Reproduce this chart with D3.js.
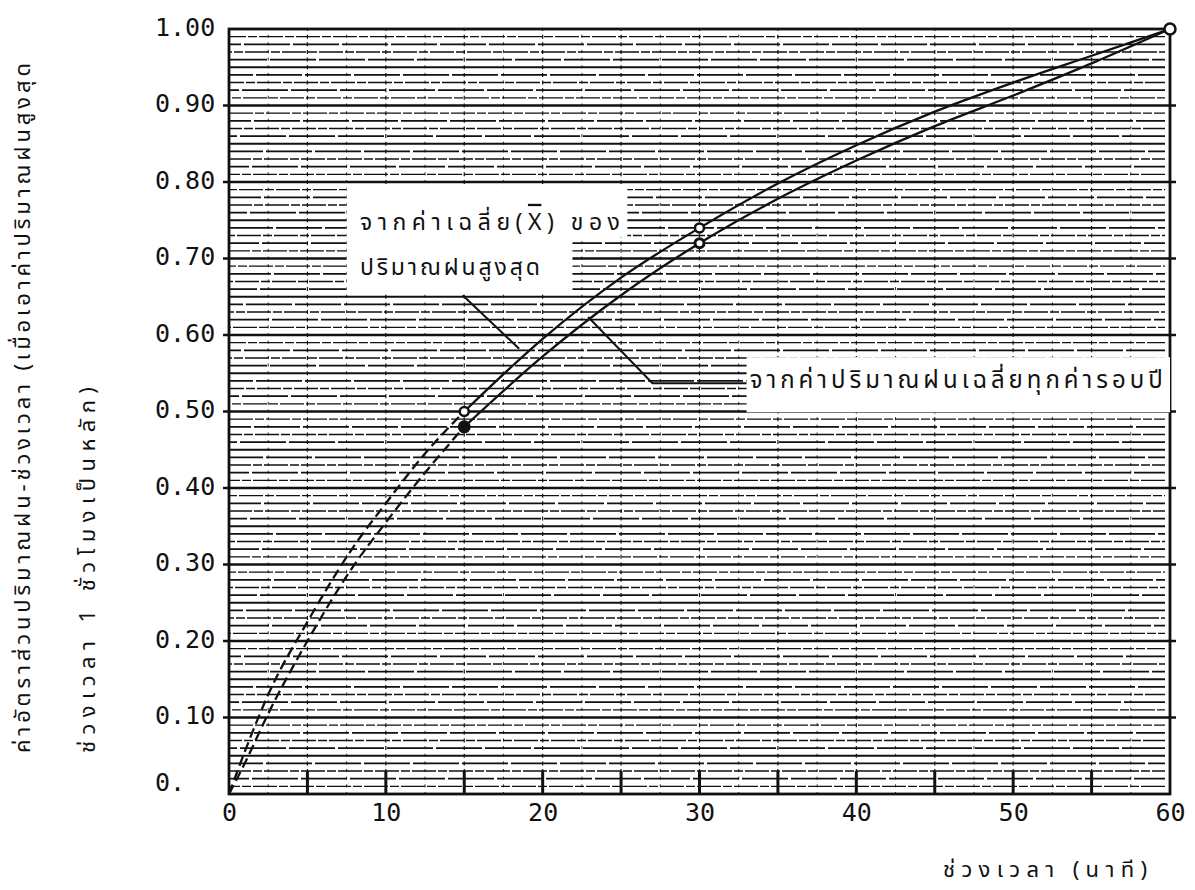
<!DOCTYPE html>
<html>
<head>
<meta charset="utf-8">
<script src="https://cdn.jsdelivr.net/npm/d3@7"></script>
<style>
  html, body { margin: 0; padding: 0; background: #fff; }
  svg { display: block; }
  .num { font-family: "DejaVu Sans Mono", "Liberation Mono", monospace; font-size: 25px; fill: #111; }
  .thai { font-family: "Noto Sans Thai", "Loma", "Garuda", "Tlwg Typo", "Noto Sans", sans-serif; fill: #111; }
</style>
</head>
<body>
<script>
// time (minutes) and depth-duration ratio
const minutes = [0, 1, 2.5, 5, 8, 10, 12.5, 15, 20, 25, 30, 35, 40, 45, 50, 55, 60];
const ratioMaxMean = [0, 0.055, 0.13, 0.225, 0.325, 0.38, 0.445, 0.5, 0.595, 0.675, 0.74, 0.798, 0.848, 0.892, 0.93, 0.965, 1.0];
const ratioAnnualMean = [0, 0.04, 0.105, 0.2, 0.3, 0.355, 0.42, 0.48, 0.572, 0.652, 0.72, 0.778, 0.828, 0.873, 0.913, 0.955, 1.0];
const dashedUntil = 15;

const pointsMaxMean = [[15, 0.5], [30, 0.74]];
const pointsAnnualMean = [[15, 0.48], [30, 0.72]];
const endPoint = [[60, 1.0]];

const xTicks = [0, 10, 20, 30, 40, 50, 60];
const yTicks = [0, 0.1, 0.2, 0.3, 0.4, 0.5, 0.6, 0.7, 0.8, 0.9, 1.0];
const yTickLabels = ["0.", "0.10", "0.20", "0.30", "0.40", "0.50", "0.60", "0.70", "0.80", "0.90", "1.00"];

const yTitle1 = "ค่าอัตราส่วนปริมาณฝน-ช่วงเวลา (เมื่อเอาค่าปริมาณฝนสูงสุด";
const yTitle2 = "ช่วงเวลา 1 ชั่วโมงเป็นหลัก)";
const xTitle = "ช่วงเวลา (นาที)";
const labelMax1 = ["จากค่าเฉลี่ย(", "X", ")  ของ"];
const labelMax2 = "ปริมาณฝนสูงสุด";
const labelAnnual = "จากค่าปริมาณฝนเฉลี่ยทุกค่ารอบปี";

// annotation boxes / leaders in data units
const boxMax = [[7.5, 25.4, 0.793, 0.728], [7.5, 21.9, 0.728, 0.656]];
const boxAnnual = [[33.0, 60, 0.571, 0.499]];
const leaderMax = [[14.9, 0.652], [18.5, 0.582]];
const leaderAnnual = [[22.9, 0.6235], [27.0, 0.537], [33.0, 0.537]];

const width = 1195, height = 890;
const x = d3.scaleLinear().domain([0, 60]).range([229, 1170]);
const y = d3.scaleLinear().domain([0, 1]).range([794, 29]);

const svg = d3.select("body").append("svg")
  .attr("width", width).attr("height", height)
  .attr("viewBox", [0, 0, width, height]);

// graph paper
const grid = svg.append("g").attr("stroke", "#111").attr("fill", "none");
const hIdx = d3.range(1, 100);
grid.selectAll("line.h")
  .data(hIdx)
  .join("line")
  .attr("class", "h")
  .attr("x1", (k) => (k % 10 === 0 ? x(0) - 6 : x(0)))
  .attr("x2", (k) => (k % 10 === 0 ? x(60) + 6 : x(60) - 5))
  .attr("y1", (k) => y(k / 100))
  .attr("y2", (k) => y(k / 100))
  .attr("stroke-width", (k) => (k % 10 === 0 ? 2.4 : k % 5 === 0 ? 2 : k % 2 ? 1.4 : 1.8))
  .attr("stroke-dasharray", (k) => (k % 5 === 0 ? null : k % 2 ? "24,2,9,2" : "46,3"))
  .attr("stroke-dashoffset", (k) => (k * 13) % 40);

const vIdx = d3.range(1, 24).map((k) => k * 2.5);
grid.selectAll("line.v")
  .data(vIdx)
  .join("line")
  .attr("class", "v")
  .attr("x1", (d) => x(d))
  .attr("x2", (d) => x(d))
  .attr("y1", y(1))
  .attr("y2", y(0))
  .attr("stroke-width", (d) => (d % 5 === 0 ? 1.2 : 0.9))
  .attr("stroke-dasharray", (d) => (d % 5 === 0 ? "4,3.65" : "3,4.65"))
  .attr("stroke-dashoffset", 2);

grid.selectAll("line.vb")
  .data(vIdx.filter((d) => d % 5 === 0))
  .join("line")
  .attr("class", "vb")
  .attr("x1", (d) => x(d))
  .attr("x2", (d) => x(d))
  .attr("y1", y(0.03))
  .attr("y2", y(0))
  .attr("stroke-width", 3);

// frame
svg.append("rect")
  .attr("x", x(0)).attr("y", y(1))
  .attr("width", x(60) - x(0)).attr("height", y(0) - y(1))
  .attr("fill", "none").attr("stroke", "#111").attr("stroke-width", 2.8);

// white label boxes
svg.append("g").attr("fill", "#fff")
  .selectAll("rect")
  .data(boxMax.concat(boxAnnual))
  .join("rect")
  .attr("x", (d) => x(d[0]))
  .attr("width", (d) => x(d[1]) - x(d[0]))
  .attr("y", (d) => y(d[2]))
  .attr("height", (d) => y(d[3]) - y(d[2]));

// curves
const rows = (vals) => minutes.map((m, i) => [m, vals[i]]);
const line = d3.line().x((d) => x(d[0])).y((d) => y(d[1])).curve(d3.curveMonotoneX);
const curves = svg.append("g").attr("fill", "none").attr("stroke", "#111").attr("stroke-width", 2.3);
[ratioMaxMean, ratioAnnualMean].forEach((vals) => {
  const r = rows(vals);
  curves.append("path")
    .attr("d", line(r.filter((d) => d[0] <= dashedUntil)))
    .attr("stroke-dasharray", "10,5");
  curves.append("path")
    .attr("d", line(r.filter((d) => d[0] >= dashedUntil)));
});

// leaders
const leader = d3.line().x((d) => x(d[0])).y((d) => y(d[1]));
svg.append("g").attr("fill", "none").attr("stroke", "#111").attr("stroke-width", 2)
  .selectAll("path")
  .data([leaderMax, leaderAnnual])
  .join("path")
  .attr("d", leader);

// markers
const marks = svg.append("g").attr("stroke", "#111");
marks.selectAll("circle.o")
  .data(pointsMaxMean.concat(endPoint))
  .join("circle")
  .attr("class", "o")
  .attr("cx", (d) => x(d[0])).attr("cy", (d) => y(d[1]))
  .attr("r", (d, i) => (i === 2 ? 5.5 : 4.5))
  .attr("fill", "#fff").attr("stroke-width", 2.5);
marks.selectAll("circle.f")
  .data(pointsAnnualMean)
  .join("circle")
  .attr("class", "f")
  .attr("cx", (d) => x(d[0])).attr("cy", (d) => y(d[1]))
  .attr("r", (d, i) => (i === 0 ? 5 : 4.5))
  .attr("fill", (d, i) => (i === 0 ? "#111" : "#fff"))
  .attr("stroke-width", 3);

// axes
const yAxis = svg.append("g")
  .attr("transform", `translate(${x(0)},0)`)
  .call(d3.axisLeft(y).tickValues(yTicks).tickSize(0)
    .tickFormat((d, i) => yTickLabels[i]));
yAxis.select(".domain").remove();
yAxis.attr("font-size", null).attr("font-family", null);
yAxis.selectAll("text")
  .attr("class", "num")
  .attr("x", -74)
  .attr("text-anchor", "start")
  .attr("dy", (d) => (d === 0 ? "-0.15em" : "0.25em"));

const xAxis = svg.append("g")
  .attr("transform", `translate(0,${y(0)})`)
  .call(d3.axisBottom(x).tickValues(xTicks).tickSize(0).tickPadding(9)
    .tickFormat(d3.format("d")));
xAxis.select(".domain").remove();
xAxis.attr("font-size", null).attr("font-family", null);
xAxis.selectAll("text").attr("class", "num");

// titles and labels
svg.append("text").attr("class", "thai")
  .attr("transform", `translate(22,753) rotate(-90)`)
  .attr("dy", "0.35em").attr("font-size", 22)
  .attr("textLength", 690).attr("lengthAdjust", "spacing")
  .text(yTitle1);
svg.append("text").attr("class", "thai")
  .attr("transform", `translate(87,753) rotate(-90)`)
  .attr("dy", "0.35em").attr("font-size", 22)
  .attr("textLength", 366).attr("lengthAdjust", "spacing")
  .text(yTitle2);
svg.append("text").attr("class", "thai")
  .attr("x", 943).attr("y", 869).attr("dy", "0.35em").attr("font-size", 22)
  .attr("textLength", 204).attr("lengthAdjust", "spacing")
  .text(xTitle);

const lm1 = svg.append("text").attr("class", "thai")
  .attr("x", x(8.35)).attr("y", y(0.748)).attr("dy", "0.35em").attr("font-size", 23)
  .attr("textLength", 260).attr("lengthAdjust", "spacing");
lm1.selectAll("tspan")
  .data(labelMax1)
  .join("tspan")
  .style("text-decoration", (d, i) => (i === 1 ? "overline" : null))
  .text((d) => d);
svg.append("text").attr("class", "thai")
  .attr("x", x(8.35)).attr("y", y(0.689)).attr("dy", "0.35em").attr("font-size", 23)
  .attr("textLength", 180).attr("lengthAdjust", "spacing")
  .text(labelMax2);
svg.append("text").attr("class", "thai")
  .attr("x", x(33.2)).attr("y", y(0.542)).attr("dy", "0.35em").attr("font-size", 24)
  .attr("textLength", 413).attr("lengthAdjust", "spacing")
  .text(labelAnnual);
</script>
</body>
</html>
